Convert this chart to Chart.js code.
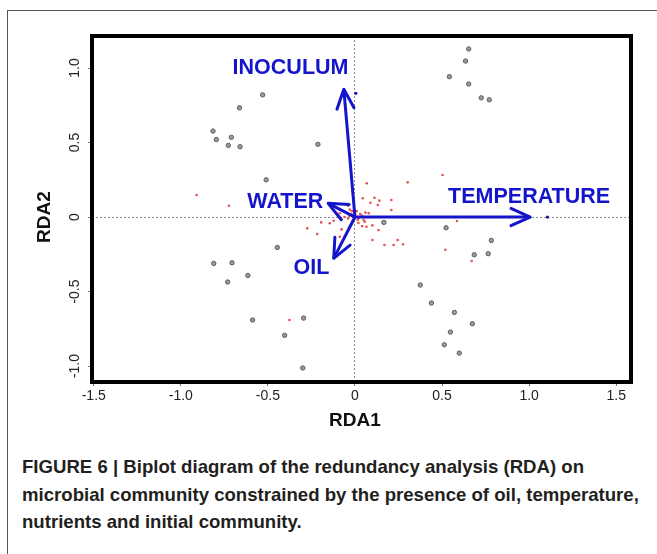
<!DOCTYPE html>
<html>
<head>
<meta charset="utf-8">
<script src="https://cdn.jsdelivr.net/npm/chart.js@4.4.1/dist/chart.umd.min.js"></script>
<style>
  html, body { margin: 0; padding: 0; background: #fff; }
  body { width: 657px; height: 554px; position: relative; overflow: hidden; font-family: "Liberation Sans", Arial, sans-serif; }
  #frame { position: absolute; left: 7px; top: 10px; width: 720px; height: 620px; border: 1.5px solid #555; box-sizing: border-box; }
  #wrap { position: absolute; left: 0; top: 0; width: 657px; height: 440px; }
  #caption { position: absolute; left: 22px; top: 453px; width: 640px; font-weight: bold; font-size: 18.6px; line-height: 27.5px; color: #231f20; white-space: nowrap; }
</style>
</head>
<body>
<div id="frame"></div>
<div id="wrap"><canvas id="rda" width="657" height="440"></canvas></div>
<div id="caption">FIGURE 6 | Biplot diagram of the redundancy analysis (RDA) on<br>microbial community constrained by the presence of oil, temperature,<br>nutrients and initial community.</div>
<script>
'use strict';

// 軸目盛
const X_TICKS = [-1.5, -1.0, -0.5, 0, 0.5, 1.0, 1.5];
const Y_TICKS = [-1.0, -0.5, 0, 0.5, 1.0];

// サンプル (灰色の丸)
const siteX = [-0.53, -0.663, -0.815, -0.796, -0.71, -0.727, -0.66, -0.51, -0.213,
  0.653, 0.635, 0.542, 0.653, 0.725, 0.771,
  -0.446, -0.811, -0.706, -0.615, -0.731, -0.588, -0.404, -0.295, -0.30,
  0.523, 0.783, 0.685, 0.765, 0.375, 0.439, 0.571, 0.674, 0.548, 0.513, 0.599, 0.166];
const siteY = [0.82, 0.733, 0.577, 0.52, 0.535, 0.481, 0.472, 0.25, 0.488,
  1.128, 1.047, 0.942, 0.893, 0.8, 0.787,
  -0.204, -0.311, -0.307, -0.392, -0.436, -0.691, -0.794, -0.678, -1.013,
  -0.072, -0.157, -0.253, -0.246, -0.456, -0.577, -0.64, -0.716, -0.772, -0.857, -0.913, -0.036];

// 種 (赤い点)
const speciesX = [0.068, 0.303, 0.045, 0.112, 0.140, 0.089, 0.131, 0.209, 0.209, -0.039,
  -0.018, -0.087, -0.032, 0.079, 0.056, -0.194, -0.145, -0.122, -0.274, -0.077,
  0.041, 0.066, 0.100, 0.135, -0.217, -0.087, 0.100, 0.169, 0.222, 0.245,
  0.276, -0.909, -0.724, -0.376, 0.586, 0.519, 0.67, 0.503,
  0.0, 0.02, -0.02, 0.03, -0.01, 0.04, 0.01, -0.04, 0.05, 0.02, -0.03, 0.06, -0.06, 0.015];
const speciesY = [0.226, 0.233, 0.126, 0.130, 0.110, 0.096, 0.081, 0.114, 0.047, 0.076,
  0.040, 0.025, 0.009, 0.025, -0.032, -0.036, -0.042, -0.025, -0.076, -0.083,
  -0.060, -0.065, -0.056, -0.087, -0.114, -0.132, -0.154, -0.188, -0.188, -0.154,
  -0.183, 0.148, 0.076, -0.691, -0.027, -0.219, -0.295, 0.282,
  0.0, -0.01, 0.02, 0.02, -0.03, 0.01, 0.04, -0.01, -0.02, -0.04, 0.05, 0.03, 0.0, -0.02];

// 環境変数 (青い矢印)
const envNames  = ['INOCULUM', 'TEMPERATURE', 'WATER', 'OIL'];
const envX      = [-0.064, 1.006, -0.154, -0.122];
const envY      = [0.857, 0.0, 0.092, -0.277];
const envLabelX = [-0.37, 1.0, -0.40, -0.25];
const envLabelY = [1.0, 0.134, 0.1, -0.342];

// 青い小点
const markX = [0.005, 1.105];
const markY = [0.83, 0.0];

const BLUE = '#1414cc';

function pts(xs, ys) { return xs.map((x, i) => ({ x, y: ys[i] })); }

const arrowSets = envNames.map((name, i) => ({
  label: name,
  data: [{ x: 0, y: 0 }, { x: envX[i], y: envY[i] }],
  showLine: true,
  borderColor: BLUE,
  borderWidth: 3,
  pointRadius: 0,
  isArrow: true,
}));

const bipot = {
  id: 'biplot',
  afterDatasetsDraw(chart) {
    const { ctx, scales: { x, y } } = chart;
    ctx.save();
    // 矢印の先端
    chart.data.datasets.forEach((ds, di) => {
      if (!ds.isArrow) return;
      const m = chart.getDatasetMeta(di).data;
      const p0 = m[0], p1 = m[1];
      const ang = Math.atan2(p1.y - p0.y, p1.x - p0.x);
      const len = 21, spread = 0.42;
      ctx.strokeStyle = BLUE;
      ctx.lineWidth = 3;
      ctx.lineCap = 'round';
      ctx.lineJoin = 'round';
      ctx.beginPath();
      ctx.moveTo(p1.x - len * Math.cos(ang - spread), p1.y - len * Math.sin(ang - spread));
      ctx.lineTo(p1.x, p1.y);
      ctx.lineTo(p1.x - len * Math.cos(ang + spread), p1.y - len * Math.sin(ang + spread));
      ctx.stroke();
    });
    // ラベル
    ctx.fillStyle = BLUE;
    ctx.font = 'bold 21.5px "Liberation Sans", Arial, sans-serif';
    ctx.textAlign = 'center';
    ctx.textBaseline = 'middle';
    envNames.forEach((n, i) => {
      ctx.fillText(n, x.getPixelForValue(envLabelX[i]), y.getPixelForValue(envLabelY[i]));
    });
    ctx.restore();
  },
  afterDraw(chart) {
    const { ctx, scales: { x, y }, chartArea: a } = chart;
    ctx.save();
    ctx.strokeStyle = '#000';
    ctx.lineWidth = 4;
    ctx.strokeRect(a.left, a.top, a.right - a.left, a.bottom - a.top);
    // y目盛ラベル (縦書き)
    ctx.fillStyle = '#222';
    ctx.font = '14px "Liberation Sans", Arial, sans-serif';
    ctx.textAlign = 'center';
    ctx.textBaseline = 'middle';
    Y_TICKS.forEach(v => {
      ctx.save();
      ctx.translate(75, y.getPixelForValue(v));
      ctx.rotate(-Math.PI / 2);
      ctx.fillText(v === 0 ? '0' : v.toFixed(1), 0, 0);
      ctx.restore();
    });
    ctx.fillStyle = '#111';
    ctx.font = 'bold 19px "Liberation Sans", Arial, sans-serif';
    ctx.save();
    ctx.translate(45, y.getPixelForValue(0));
    ctx.rotate(-Math.PI / 2);
    ctx.fillText('RDA2', 0, 0);
    ctx.restore();
    ctx.fillText('RDA1', x.getPixelForValue(0), 421);
    ctx.restore();
  },
};

const zeroGrid = {
  color: c => (c.tick && c.tick.value === 0 ? '#8a8a8a' : 'rgba(0,0,0,0)'),
  lineWidth: 1,
  tickColor: '#777',
  tickLength: 4,
  drawTicks: true,
};

new Chart(document.getElementById('rda'), {
  type: 'scatter',
  data: {
    datasets: [
      ...arrowSets,
      { label: 'marks', data: pts(markX, markY), pointRadius: 1.6, backgroundColor: BLUE, borderWidth: 0 },
      { label: 'species', data: pts(speciesX, speciesY), pointRadius: 1.3, backgroundColor: '#e2524f', borderWidth: 0 },
      { label: 'sites', data: pts(siteX, siteY), pointRadius: 2.2, backgroundColor: '#9a9a9a', borderColor: '#5e5e5e', borderWidth: 1 },
    ],
  },
  options: {
    responsive: false,
    animation: false,
    devicePixelRatio: 1,
    layout: { padding: { left: 0, top: 36, right: 26, bottom: 0 } },
    plugins: { legend: { display: false }, tooltip: { enabled: false } },
    scales: {
      x: {
        type: 'linear',
        min: -1.51, max: 1.585,
        afterBuildTicks: s => { s.ticks = X_TICKS.map(v => ({ value: v })); },
        afterFit: s => { s.height = 58; },
        ticks: {
          color: '#222',
          font: { size: 14, family: '"Liberation Sans", Arial, sans-serif' },
          padding: 2,
          maxRotation: 0,
          callback: v => (v === 0 ? '0' : v.toFixed(1)),
        },
        grid: zeroGrid,
        border: { display: false, dash: [2, 2] },
      },
      y: {
        type: 'linear',
        min: -1.107, max: 1.215,
        afterBuildTicks: s => { s.ticks = Y_TICKS.map(v => ({ value: v })); },
        afterFit: s => { s.width = 92; },
        ticks: { display: false },
        grid: zeroGrid,
        border: { display: false, dash: [2, 2] },
      },
    },
  },
  plugins: [bipot],
});
</script>
</body>
</html>
